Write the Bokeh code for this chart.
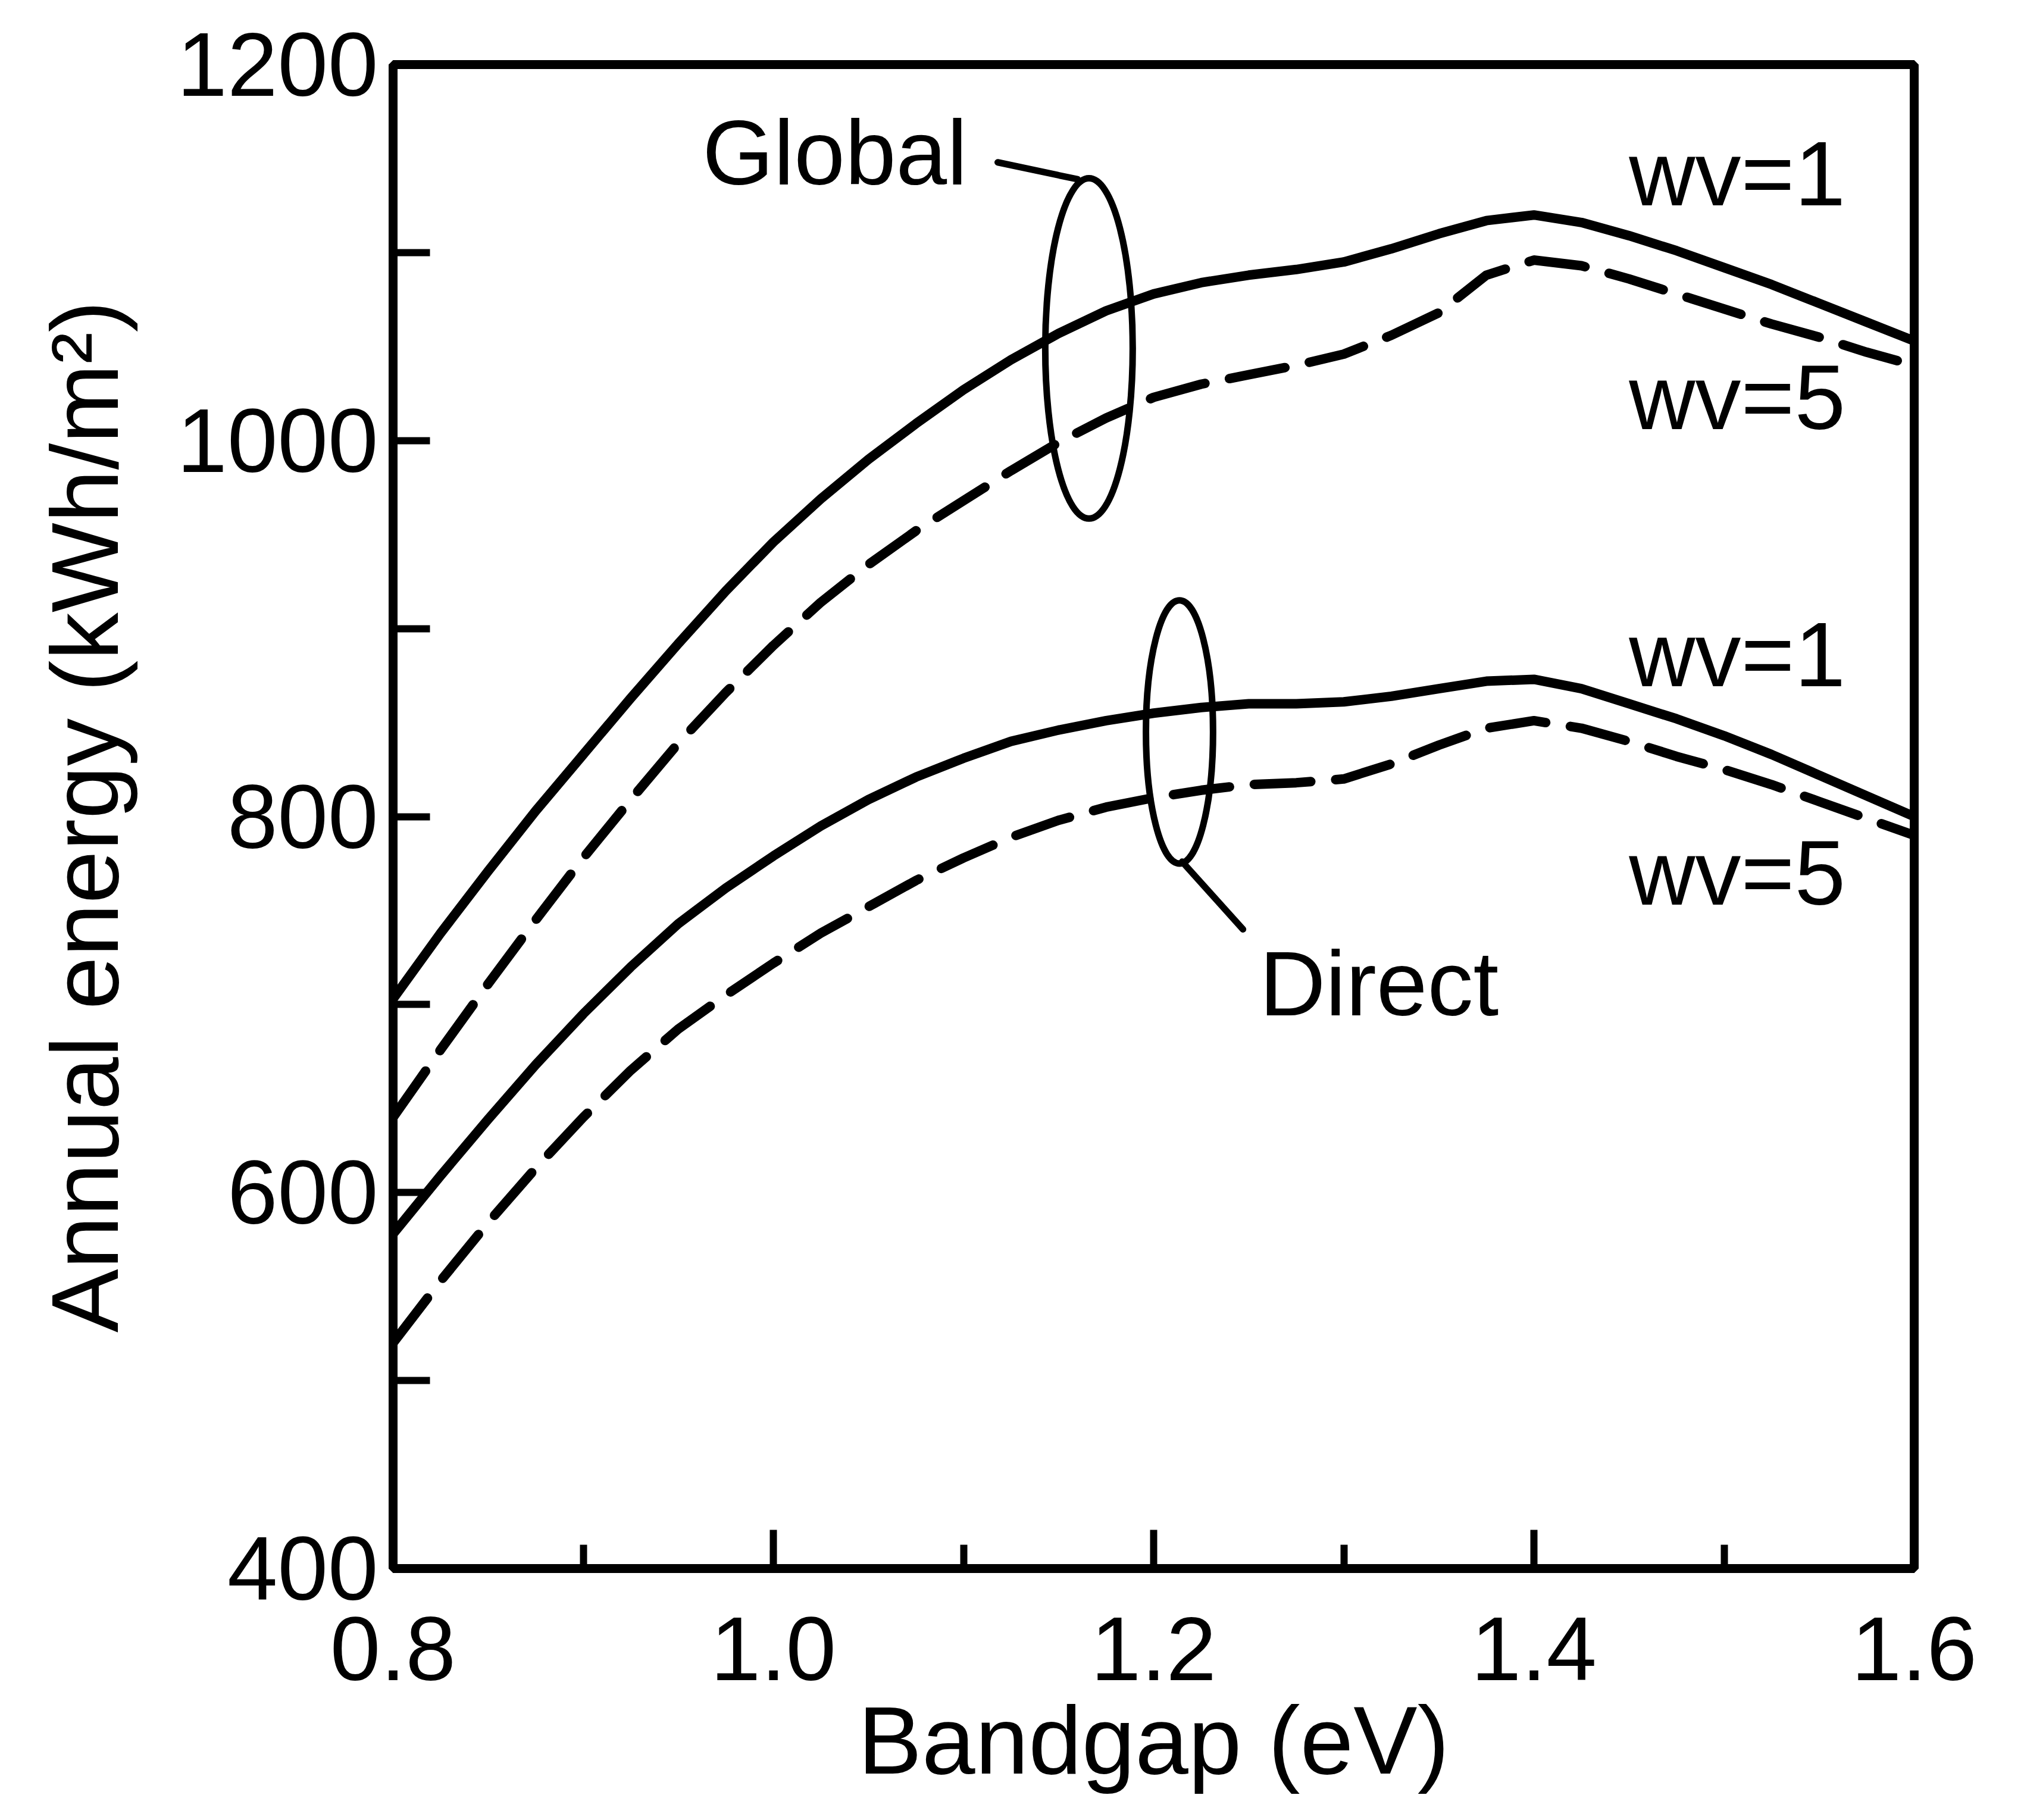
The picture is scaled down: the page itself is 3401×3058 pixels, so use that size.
from bokeh.plotting import figure
from bokeh.models import Range1d, FixedTicker, Label
from bokeh.embed import file_html
from bokeh.resources import INLINE

# ---- data ----
bandgap = [0.800, 0.825, 0.850, 0.875, 0.900, 0.925, 0.950, 0.975,
           1.000, 1.025, 1.050, 1.075, 1.100, 1.125, 1.150, 1.175,
           1.200, 1.225, 1.250, 1.275, 1.300, 1.325, 1.350, 1.375,
           1.400, 1.425, 1.450, 1.475, 1.500, 1.525, 1.550, 1.575, 1.600]
global_wv1 = [703, 738, 771, 803, 833, 863, 892, 920,
              946, 969, 990, 1009, 1027, 1043, 1057, 1069,
              1078, 1084, 1088, 1091, 1095, 1102, 1110, 1117,
              1120, 1116, 1109, 1101, 1092, 1083, 1073, 1063, 1053]
global_wv5 = [640, 676, 711, 745, 778, 809, 839, 866,
              891, 914, 934, 952, 968, 984, 999, 1012,
              1023, 1030, 1035, 1040, 1046, 1056, 1068, 1088,
              1096, 1093, 1086, 1078, 1070, 1062, 1055, 1047, 1040]
direct_wv1 = [578, 609, 639, 668, 695, 720, 743, 762,
              779, 795, 809, 821, 831, 840, 846, 851,
              855, 858, 860, 860, 861, 864, 868, 872,
              873, 868, 860, 852, 843, 833, 822, 811, 800]
direct_wv5 = [520, 553, 584, 613, 640, 665, 687, 705,
              722, 738, 752, 766, 778, 789, 798, 805,
              810, 814, 817, 818, 820, 828, 838, 847,
              851, 847, 840, 832, 825, 817, 808, 799, 790]

x_ticks = [0.8, 1.0, 1.2, 1.4, 1.6]
x_tick_labels = ["0.8", "1.0", "1.2", "1.4", "1.6"]
x_minor = [0.9, 1.1, 1.3, 1.5]
y_ticks = [400, 600, 800, 1000, 1200]
y_tick_labels = ["400", "600", "800", "1000", "1200"]
y_minor = [500, 700, 900, 1100]

FONT = "Liberation Sans"
FS = "154px"

p = figure(width=3401, height=3058, output_backend="svg", toolbar_location=None,
           x_range=Range1d(0.8, 1.6), y_range=Range1d(400, 1200),
           min_border_left=660, min_border_right=185,
           min_border_top=108, min_border_bottom=423)
p.background_fill_color = "white"
p.border_fill_color = "white"
p.xgrid.visible = False
p.ygrid.visible = False
p.outline_line_color = "black"
p.outline_line_width = 15
p.outline_line_alpha = 1.0

for ax in (p.xaxis[0], p.yaxis[0]):
    ax.axis_line_width = 15
    ax.axis_line_color = "black"
    ax.major_tick_out = 0
    ax.minor_tick_out = 0
    ax.major_tick_line_width = 12
    ax.minor_tick_line_width = 12
    ax.major_tick_line_color = "black"
    ax.minor_tick_line_color = "black"
    ax.major_label_text_font = FONT
    ax.major_label_text_font_size = "152px"
    ax.major_label_text_color = "black"
    ax.axis_label_text_font = FONT
    ax.axis_label_text_font_style = "normal"
    ax.axis_label_text_color = "black"

xa = p.xaxis[0]
xa.ticker = FixedTicker(ticks=x_ticks, minor_ticks=x_minor)
xa.major_label_overrides = dict(zip(x_ticks, x_tick_labels))
xa.major_tick_in = 65
xa.minor_tick_in = 40
xa.major_label_standoff = 82
xa.axis_label = "Bandgap (eV)"
xa.axis_label_text_font_size = "161px"
xa.axis_label_standoff = 8

ya = p.yaxis[0]
ya.ticker = FixedTicker(ticks=y_ticks, minor_ticks=y_minor)
ya.major_label_overrides = dict(zip(y_ticks, y_tick_labels))
ya.major_label_orientation = "horizontal"
ya.major_tick_in = 62
ya.minor_tick_in = 62
ya.major_label_standoff = 25
ya.axis_label = "Annual energy (kWh/m²)"
ya.axis_label_text_font_size = "160px"
ya.axis_label_standoff = 62

LW = 16
DASH = "95 42"
p.line(bandgap, global_wv1, line_color="black", line_width=LW,
       line_join="round", line_cap="round")
p.line(bandgap, global_wv5, line_color="black", line_width=LW,
       line_join="round", line_cap="round", line_dash=DASH)
p.line(bandgap, direct_wv1, line_color="black", line_width=LW,
       line_join="round", line_cap="round")
p.line(bandgap, direct_wv5, line_color="black", line_width=LW,
       line_join="round", line_cap="round", line_dash=DASH)

# grouping ellipses and leaders
EW = 11
p.ellipse(x=[1.166], y=[1049], width=[0.046], height=[181],
          fill_color=None, line_color="black", line_width=EW)
p.ellipse(x=[1.2136], y=[845], width=[0.0353], height=[140],
          fill_color=None, line_color="black", line_width=EW)
p.line([1.118, 1.160], [1148, 1139], line_color="black", line_width=EW, line_cap="round")
p.line([1.215, 1.247], [776, 740], line_color="black", line_width=EW, line_cap="round")

labels = [
    ("Global", 0.9627, 1153),
    ("wv=1", 1.450, 1142),
    ("wv=5", 1.450, 1023),
    ("wv=1", 1.450, 886),
    ("wv=5", 1.450, 770),
    ("Direct", 1.2556, 711),
]
for t, lx, ly in labels:
    p.add_layout(Label(x=lx, y=ly, text=t, text_font=FONT, text_font_size=FS,
                       text_color="black", text_baseline="alphabetic",
                       text_align="left"))

open("out.html", "w").write(file_html(p, INLINE))
